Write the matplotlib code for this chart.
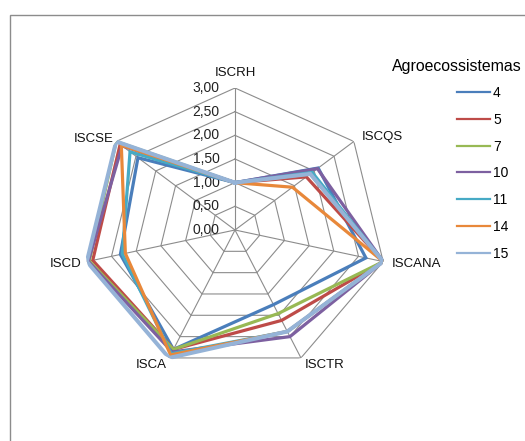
import numpy as np
import matplotlib
matplotlib.use('Agg')
import matplotlib.pyplot as plt

plt.rcParams['font.family'] = ['Liberation Sans', 'DejaVu Sans']

# Eixos (sentido horário a partir do topo)
categorias = ['ISCRH', 'ISCQS', 'ISCANA', 'ISCTR', 'ISCA', 'ISCD', 'ISCSE']
niveis = [0.0, 0.5, 1.0, 1.5, 2.0, 2.5, 3.0]
rotulos_niveis = ['0,00', '0,50', '1,00', '1,50', '2,00', '2,50', '3,00']

ag4 = [1.00, 2.10, 2.65, 1.75, 2.80, 2.32, 2.45]
ag5 = [1.00, 1.80, 3.00, 2.12, 2.80, 2.88, 2.90]
ag7 = [1.00, 1.90, 3.00, 1.96, 2.80, 2.95, 3.00]
ag10 = [1.00, 2.08, 3.00, 2.50, 2.86, 2.97, 2.85]
ag11 = [1.00, 1.95, 3.00, 2.38, 2.90, 2.28, 2.65]
ag14 = [1.00, 1.45, 3.00, 2.38, 2.93, 2.22, 2.87]
ag15 = [1.00, 1.90, 3.00, 2.38, 3.00, 3.00, 3.00]

series = [('4', ag4, '#4A7EBB'), ('5', ag5, '#BE4B48'), ('7', ag7, '#98B954'),
          ('10', ag10, '#7D60A0'), ('11', ag11, '#46AAC5'), ('14', ag14, '#E8883A'),
          ('15', ag15, '#95B3D7')]

n = len(categorias)
ang = np.linspace(0, 2 * np.pi, n, endpoint=False)
ang_f = np.append(ang, ang[0])

fig = plt.figure(figsize=(5.25, 4.41), dpi=100)
# moldura da área do gráfico
fig.add_artist(plt.Rectangle((10 / 525, -0.1), 2, 1.1 - 15 / 441, transform=fig.transFigure,
                             fill=False, edgecolor='#8c8c8c', lw=1))

ax = fig.add_axes([83 / 525, 69 / 441, 304 / 525, 284 / 441], projection='polar')
ax.set_aspect('auto')
ax.set_theta_zero_location('N')
ax.set_theta_direction(-1)
ax.set_ylim(0, 3)
ax.grid(False)
ax.spines['polar'].set_visible(False)
ax.set_xticks([])
ax.set_yticks([])

grid_c = '#8c8c8c'
# anéis heptagonais
for r in niveis[1:]:
    ax.plot(ang_f, [r] * (n + 1), color=grid_c, lw=0.8, zorder=1)
# raios
for a in ang:
    ax.plot([a, a], [0, 3], color=grid_c, lw=0.8, zorder=1)

# rótulos da escala
for r, t in zip(niveis, rotulos_niveis):
    ax.annotate(t, (0, r), xytext=(-11, 0), textcoords='offset points',
                ha='right', va='center', fontsize=10, color='#222222')

# rótulos das categorias (deslocamento em pontos)
offs = [(0, 11, 'center'), (6, 3, 'left'), (6, -1.5, 'left'), (3, -5, 'left'),
        (-2, -5, 'right'), (-4, -1.5, 'right'), (-2, 2, 'right')]
for a, c, (dx, dy, ha) in zip(ang, categorias, offs):
    ax.annotate(c, (a, 3), xytext=(dx, dy), textcoords='offset points',
                ha=ha, va='center', fontsize=9.5, color='#111111')

for nome, vals, cor in series:
    lw = 2.9 if nome == '15' else 2.3
    ax.plot(ang_f, vals + vals[:1], color=cor, lw=lw, label=nome, zorder=3,
            solid_joinstyle='miter')

fig.text(392 / 525, 1 - 67 / 441, 'Agroecossistemas', fontsize=11.4, ha='left', va='center')
leg = fig.legend(loc='upper left', bbox_to_anchor=(457 / 525, 1 - 86 / 441), frameon=False,
                 borderaxespad=0, borderpad=0, fontsize=10, handlelength=2.4,
                 handletextpad=0.2, labelspacing=0.92)
for l in leg.get_lines():
    l.set_linewidth(1.6)

fig.savefig('out.png', dpi=100)
